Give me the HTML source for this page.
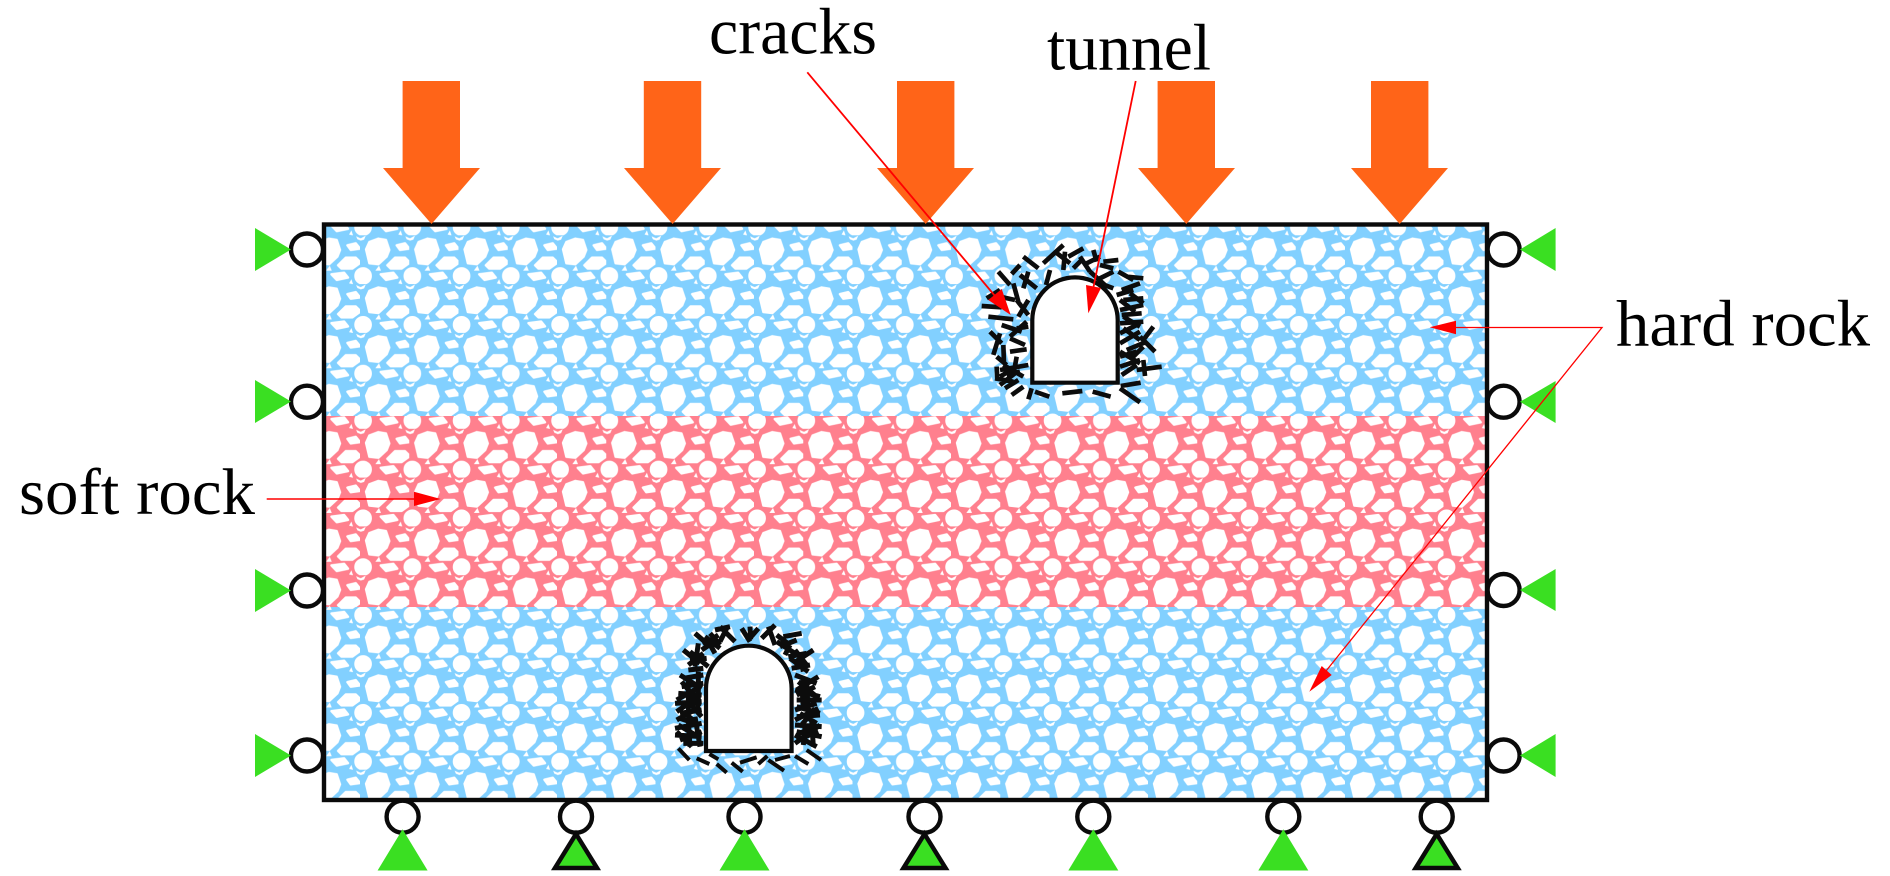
<!DOCTYPE html>
<html><head><meta charset="utf-8"><title>Rock model</title>
<style>html,body{margin:0;padding:0;background:#fff}svg{display:block}text{font-family:"Liberation Serif",serif;font-size:66px;fill:#000}</style>
</head><body>
<svg xmlns="http://www.w3.org/2000/svg" width="1890" height="876" viewBox="0 0 1890 876">
<defs>
<g id="st" fill="#fff" transform="translate(0,-28)">
<g stroke="#fff" stroke-width="7" stroke-linejoin="round">
<polygon points="18,70 28,48 55,38 78,42 88,72 80,92 55,115 28,112"/>
<polygon points="82,118 105,95 135,95 150,110 125,128 92,128"/>
<polygon points="110,58 135,52 148,68 120,72"/>
<circle cx="157" cy="150" r="23"/><circle cx="9.25" cy="150" r="23"/>
<polygon points="62,145 100,140 112,155 78,162"/>
</g>
<polygon points="136,31 150,37 165,29 160,41 150,44 140,40"/>
<polygon points="-11.7,31 2.3,37 17.3,29 12.3,41 2.3,44 -7.7,40"/>
<polygon points="46,134 57,119 63,134"/>
<polygon points="115,172 122,160 127,175"/>
</g>
<pattern id="pb1" patternUnits="userSpaceOnUse" width="147.75" height="146.4" patternTransform="translate(360,235.3) scale(.33333)"><rect x="0" y="0" width="148" height="147" fill="#82d0ff"/><use href="#st"/></pattern>
<pattern id="pp" patternUnits="userSpaceOnUse" width="147.75" height="146.4" patternTransform="translate(360,428.8) scale(.33333)"><rect x="0" y="0" width="148" height="147" fill="#ff808e"/><use href="#st"/></pattern>
<pattern id="pb2" patternUnits="userSpaceOnUse" width="147.75" height="146.4" patternTransform="translate(360,623.3) scale(.33333)"><rect x="0" y="0" width="148" height="147" fill="#82d0ff"/><use href="#st"/></pattern>
</defs>

<rect x="326" y="226" width="1159" height="190" fill="url(#pb1)"/>
<rect x="326" y="416" width="1159" height="191" fill="url(#pp)"/>
<rect x="326" y="607" width="1159" height="192" fill="url(#pb2)"/>
<rect x="324" y="224.5" width="1163" height="575.5" fill="none" stroke="#0a0a0a" stroke-width="4.4"/>

<!-- load arrows -->
<g fill="#ff6418">
<polygon points="402.6,81 460,81 460,168 480,168 431.5,224 383,168 402.6,168"/>
<polygon points="643.8,81 701.2,81 701.2,168 721,168 672.6,224 624,168 643.8,168"/>
<polygon points="897,81 954.4,81 954.4,168 974,168 925.7,224 877,168 897,168"/>
<polygon points="1157.6,81 1215,81 1215,168 1235,168 1186.3,224 1138,168 1157.6,168"/>
<polygon points="1371,81 1428.4,81 1428.4,168 1448,168 1399.7,224 1351,168 1371,168"/>
</g>

<!-- side supports -->
<g fill="#fff" stroke="#0a0a0a" stroke-width="4.4">
<circle cx="307" cy="249.5" r="16"/><circle cx="307" cy="401.7" r="16"/><circle cx="307" cy="590.5" r="16"/><circle cx="307" cy="755.5" r="16"/>
<circle cx="1503.6" cy="249.5" r="16"/><circle cx="1503.6" cy="401.7" r="16"/><circle cx="1503.6" cy="590" r="16"/><circle cx="1503.6" cy="755.5" r="16"/>
<circle cx="402.6" cy="816.7" r="16"/><circle cx="576" cy="816.7" r="16"/><circle cx="744.5" cy="816.7" r="16"/><circle cx="924.5" cy="816.7" r="16"/><circle cx="1093.3" cy="816.7" r="16"/><circle cx="1283.3" cy="816.7" r="16"/><circle cx="1436.7" cy="816.7" r="16"/>
</g>
<g fill="#3adf22">
<polygon points="255,228 291,249.5 255,271"/><polygon points="255,380 291,401.5 255,423"/><polygon points="255,569 291,590.5 255,612"/><polygon points="255,734 291,755.5 255,777"/>
<polygon points="1555.6,228 1520,249.5 1555.6,271"/><polygon points="1555.6,381 1520,401.8 1555.6,423"/><polygon points="1555.6,569 1520,590 1555.6,611"/><polygon points="1555.6,734 1520,755.5 1555.6,777"/>
<polygon points="402.6,829.3 427.6,870.5 377.6,870.5"/>
<polygon points="744.5,829.3 769.5,870.5 719.5,870.5"/>
<polygon points="1093.3,829.3 1118.3,870.5 1068.3,870.5"/>
<polygon points="1283.3,829.3 1308.3,870.5 1258.3,870.5"/>
<g stroke="#0a0a0a" stroke-width="4.5">
<polygon points="576,834 597,868 555,868"/>
<polygon points="924.5,834 945.5,868 903.5,868"/>
<polygon points="1436.7,834 1457.7,868 1415.7,868"/>
</g>
</g>

<!-- cracks tunnel 1 -->
<g transform="translate(900,200) scale(.33333)" stroke="#0c0c0c" stroke-width="14" fill="none">
<path d="M295 215L330 255M335 222L360 195M370 170L415 205M360 225L410 265M385 215L370 265M340 250L355 305M260 295L300 270M300 290L345 300M245 318L305 322M265 350L340 358M350 300L385 345M385 300L355 350M305 375L365 395M380 365L330 410M270 395L305 430M300 400L280 465M330 415L375 435M330 455L380 448M310 435L312 490M290 470L320 495M290 500L292 540M300 510L385 495M310 495L370 530M350 470L340 525M320 525L360 515M315 565L355 540M285 535L340 545M335 585L370 560M395 565L385 598M405 575L448 590M487 580L547 573M578 575L632 590M660 565L720 607M662 558L722 548M430 190L490 135M465 155L510 190M450 210L438 255M495 155L490 210M505 170L550 145M520 205L545 180M540 170L570 215M580 150L590 185M560 190L600 170M610 185L655 180M600 195L640 205M590 240L640 215M570 215L620 260M640 265L600 250M655 215L700 240M680 230L730 235M665 270L720 250M650 285L700 270M670 300L730 295M660 330L730 315M670 350L720 380M660 370L730 365M660 400L710 375M720 410L765 455M730 420L760 380M660 430L720 395M680 450L740 425M660 470L710 455M690 480L730 440M660 500L720 480M710 510L785 500M730 480L735 528M665 525L710 495M660 300L705 335M665 345L725 340M690 280L730 310M670 385L720 420M660 455L720 490M300 530L350 500M300 555L345 520M350 385L385 380"/>
</g>
<!-- cracks tunnel 2 -->
<g transform="translate(620,600) scale(.33333)" stroke="#0c0c0c" stroke-width="15" fill="none">
<g stroke-width="12">
<path d="M175 445L208 480M230 475L268 492M268 462L295 478M290 492L320 518M335 488L368 515M360 488L410 472M415 492L442 468M445 480L492 512M465 480L510 468M525 468L565 492M560 450L603 480"/>
</g>
<path d="M190 150L240 190M225 100L260 130M235 130L225 200M210 180L260 175M205 210L250 205M255 110L300 145M245 150L290 120M265 125L285 160M285 90L330 80M300 80L345 125M320 85L300 125M365 85L390 125M415 85L385 120M390 80L392 118M425 115L465 75M445 80L465 135M470 105L510 135M490 110L545 100M480 140L530 120M510 135L495 165M505 170L560 160M520 190L580 150M540 165L550 215M515 205L570 195M210 155L265 200M205 195L250 160M250 135L295 105M270 100L300 135M470 125L525 160M525 150L560 195M510 175L565 215
M180 225L245 265M170 300L240 260M185 260L250 250M195 280L240 320M165 310L245 305M180 340L245 330M170 360L240 320M195 340L230 370M165 385L245 370M175 375L235 410M205 360L210 440M165 405L245 410M180 420L245 395M190 430L250 430M170 395L215 440M225 350L240 440M190 235L250 225M175 280L245 285M185 245L230 300M200 300L245 350M170 335L220 300M180 355L240 375M235 215L235 300M205 240L205 340
M525 225L590 250M595 230L530 270M525 270L600 290M530 300L605 300M525 330L590 310M545 240L550 330M530 350L600 345M585 325L545 375M525 375L605 380M530 395L605 410M530 420L595 395M575 360L580 440M525 405L590 440M555 380L550 435M600 375L525 430M535 245L590 290M530 285L585 260M560 240L565 350M530 320L600 340M540 340L590 370M525 360L595 325M590 385L535 400"/>
</g>

<!-- tunnels -->
<g fill="#fff" stroke="#0a0a0a" stroke-width="4.2">
<path d="M1032.3 382.7V320A42.7 42.7 0 0 1 1117.7 320V382.7Z"/>
<path d="M706 751V688.5A42.8 42.8 0 0 1 791.6 688.5V751Z"/>
</g>

<!-- red leaders -->
<g stroke="#ff0000" fill="none">
<line x1="807.3" y1="72.3" x2="995" y2="296" stroke-width="1.8"/>
<line x1="1135.7" y1="81" x2="1093.5" y2="287" stroke-width="1.8"/>
<line x1="266.7" y1="499" x2="416" y2="499" stroke-width="1.6"/>
<polyline points="1455,327.5 1602,327.5 1326,671" stroke-width="1.3"/>
</g>
<g fill="#ff0000">
<polygon points="1010.7,315 988.3,300 1001.7,289"/>
<polygon points="1088.3,313.3 1086,285 1101,288"/>
<polygon points="440.7,499 414,491.7 414,506"/>
<polygon points="1429.7,327.3 1456,320.7 1456,334.3"/>
<polygon points="1309.3,691.7 1321.7,666 1331.7,675"/>
</g>

<!-- labels -->
<text x="709" y="53.3" textLength="168" lengthAdjust="spacingAndGlyphs">cracks</text>
<text x="1047" y="69.5" textLength="164" lengthAdjust="spacingAndGlyphs">tunnel</text>
<text x="1616" y="345.7" textLength="254" lengthAdjust="spacingAndGlyphs">hard rock</text>
<text x="19" y="514" textLength="236" lengthAdjust="spacingAndGlyphs">soft rock</text>
</svg>
</body></html>
